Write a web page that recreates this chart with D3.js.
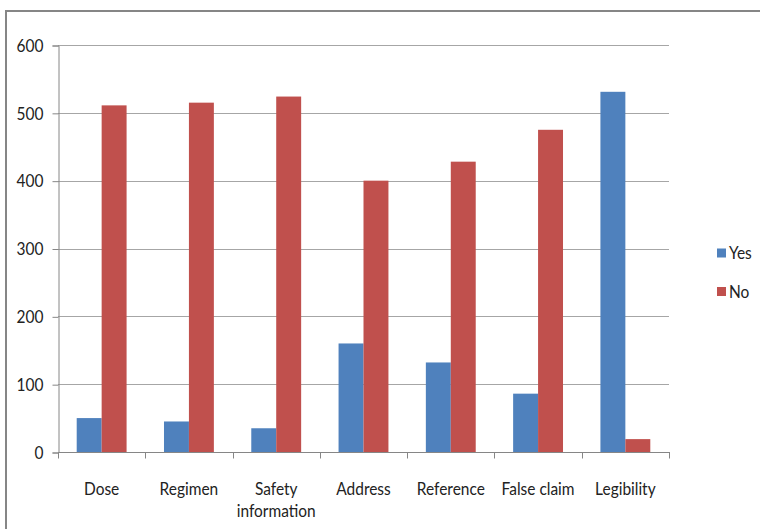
<!DOCTYPE html>
<html>
<head>
<meta charset="utf-8">
<script src="https://cdn.jsdelivr.net/npm/d3@7"></script>
<style>
  html, body { margin: 0; padding: 0; background: #fff; }
  svg { display: block; }
  text { font-family: Lato, "Liberation Sans", sans-serif; fill: #222; }
</style>
</head>
<body>
<svg id="chart" width="760" height="529"></svg>
<script>
// Label audit results per criterion
const categories = ["Dose", "Regimen", "Safety information", "Address", "Reference", "False claim", "Legibility"];
const yesValues = [50, 45, 35, 160, 132, 86, 531];
const noValues  = [511, 515, 524, 400, 428, 475, 19];
const seriesNames = ["Yes", "No"];
const seriesColors = ["#4F81BD", "#C0504D"];
const yTicks = [0, 100, 200, 300, 400, 500, 600];

const FONT = "Lato, 'Liberation Sans', sans-serif";
const FS = 18;
const SX = 0.86;   // horizontal condensing of the label glyphs

const svg = d3.select("#chart");
const W = 760, H = 529;
const plot = { left: 58, right: 669, top: 45, bottom: 452 };

// outer chart frame
svg.append("rect")
  .attr("x", 6).attr("y", 11)
  .attr("width", W + 10).attr("height", H + 10)
  .attr("fill", "none").attr("stroke", "#868686").attr("stroke-width", 2);

const x = d3.scaleBand().domain(categories).range([plot.left, plot.right]).padding(0);
const y = d3.scaleLinear().domain([0, 600]).range([plot.bottom, plot.top]);

// gap between groups is 150% of one bar width
const barW = x.bandwidth() / 3.5;
const xs = d3.scaleBand().domain(seriesNames)
  .range([x.bandwidth() / 2 - barW, x.bandwidth() / 2 + barW]).padding(0);

// horizontal gridlines
svg.append("g")
  .selectAll("line").data(yTicks.filter(d => d > 0)).join("line")
  .attr("x1", plot.left).attr("x2", plot.right)
  .attr("y1", d => Math.round(y(d)) + 0.5).attr("y2", d => Math.round(y(d)) + 0.5)
  .attr("stroke", "#a6a6a6").attr("stroke-width", 1);

// y axis
const yAxis = d3.axisLeft(y).tickValues(yTicks).tickSize(6).tickPadding(9);
const gy = svg.append("g").attr("transform", `translate(${plot.left + 0.5},0.5)`).call(yAxis);
gy.select(".domain").attr("stroke", "#868686");
gy.selectAll(".tick line").attr("stroke", "#868686");
gy.selectAll(".tick text")
  .attr("x", null)
  .attr("transform", `translate(-15,0) scale(${SX},1)`)
  .attr("font-size", FS).attr("fill", "#222")
  .attr("font-family", FONT);

// bars
const rows = categories.map((c, i) => ({ cat: c, values: [yesValues[i], noValues[i]] }));
const groups = svg.append("g").selectAll("g").data(rows).join("g")
  .attr("transform", d => `translate(${x(d.cat)},0)`);
groups.selectAll("rect")
  .data(d => d.values.map((v, k) => ({ key: seriesNames[k], value: v, color: seriesColors[k] })))
  .join("rect")
  .attr("x", d => xs(d.key))
  .attr("y", d => y(d.value))
  .attr("width", xs.bandwidth())
  .attr("height", d => plot.bottom - y(d.value))
  .attr("fill", d => d.color);

// x axis with ticks at category boundaries
const gx = svg.append("g").attr("transform", `translate(0,${plot.bottom + 0.5})`);
gx.append("line").attr("x1", plot.left).attr("x2", plot.right + 1)
  .attr("stroke", "#868686");
const bounds = categories.map(c => x(c)).concat([plot.right]);
gx.selectAll("line.tk").data(bounds).join("line").attr("class", "tk")
  .attr("x1", d => Math.round(d) + 0.5).attr("x2", d => Math.round(d) + 0.5)
  .attr("y1", 0).attr("y2", 6).attr("stroke", "#868686");

// category labels, wrapped onto two lines where needed
const wrapped = { "Safety information": ["Safety", "information"] };
gx.selectAll("text.cat").data(categories).join("text").attr("class", "cat")
  .attr("text-anchor", "middle")
  .attr("font-size", FS)
  .attr("font-family", FONT)
  .attr("transform", d => `translate(${x(d) + x.bandwidth() / 2},42.5) scale(${SX},1)`)
  .each(function(d) {
    const lines = wrapped[d] || [d];
    d3.select(this).selectAll("tspan").data(lines).join("tspan")
      .attr("x", 0).attr("dy", (l, i) => i === 0 ? 0 : 22)
      .text(l => l);
  });

// legend
const legend = svg.append("g").attr("transform", "translate(717,0)");
const legY = [253, 291.5];
seriesNames.forEach((name, i) => {
  legend.append("rect").attr("x", 0).attr("y", legY[i] - 4.5)
    .attr("width", 9).attr("height", 9).attr("fill", seriesColors[i]);
  legend.append("text")
    .attr("transform", `translate(12,${legY[i]}) scale(${SX},1)`)
    .attr("dy", "0.36em")
    .attr("font-size", FS).attr("font-family", FONT).text(name);
});
</script>
</body>
</html>
